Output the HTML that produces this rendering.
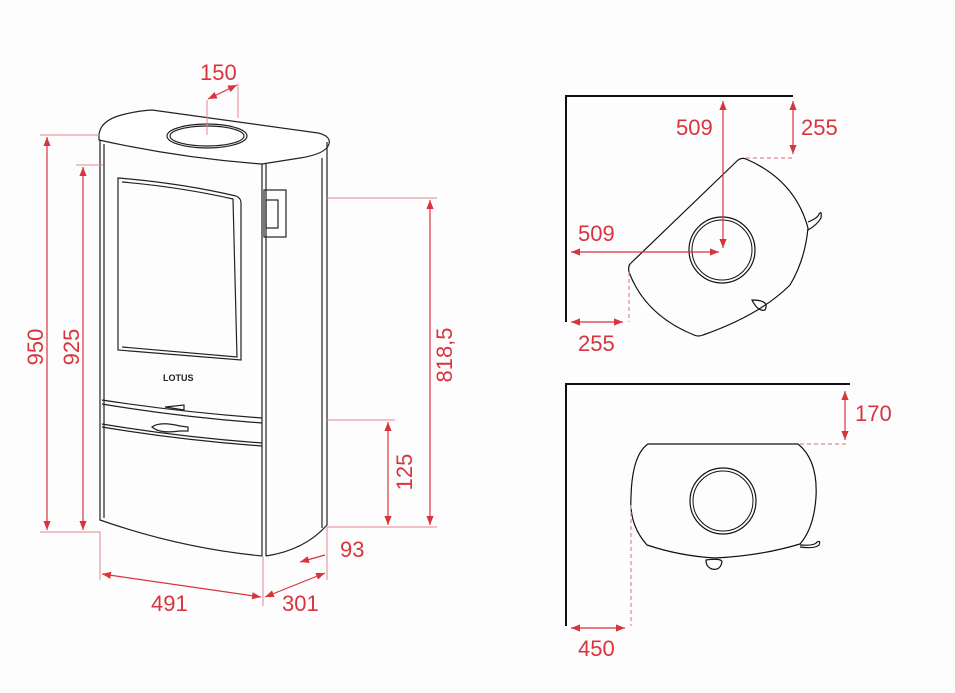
<!DOCTYPE html>
<html><head><meta charset="utf-8"><style>
html,body{margin:0;padding:0;background:#fdfdfd;}
svg{display:block;}
text{font-family:"Liberation Sans",sans-serif;font-size:22px;fill:#d9343e;}
</style></head><body>
<svg width="955" height="693" viewBox="0 0 955 693" xmlns="http://www.w3.org/2000/svg">
<defs>
<marker id="a" viewBox="0 0 10 10" refX="10" refY="5" markerWidth="9" markerHeight="9" orient="auto-start-reverse" markerUnits="userSpaceOnUse"><path d="M0,1 L10,5 L0,9 z" fill="#d9343e"/></marker>
</defs>
<rect width="955" height="693" fill="#fdfdfd"/>
<!-- LEFT STOVE -->
<g fill="none" stroke="#222" stroke-width="1.2">
<path d="M99,135 Q100,122 118,116 Q135,111 152,110 L318,133 Q331,136 329,144 Q326,154 300,158 L262,164 Q180,158 99,140 Z" fill="#fff"/>
<ellipse cx="207" cy="136" rx="40" ry="12"/>
<ellipse cx="207" cy="136" rx="37" ry="10"/>
<path d="M100,140 L100,520 Q180,548 262,556"/>
<path d="M104,144 L104,518"/>
<path d="M262,164 L262,556"/>
<path d="M266,164 L266,556"/>
<path d="M266,556 Q305,550 327,525 L327,142"/>
<path d="M322,158 L322,528"/>
<path d="M118,178 Q180,183 236,196 Q241,198 241,203 L241,360 Q180,355 118,350 Z"/>
<path d="M122,182 Q180,187 233,199 L237,357 Q180,352 122,347"/>
<rect x="264" y="190" width="22" height="47"/>
<rect x="266" y="200" width="12" height="28"/>
<path d="M102,400 Q180,412 262,418"/>
<path d="M102,404 Q180,417 262,423"/>
<path d="M102,424 Q180,437 262,443"/>
<path d="M102,427 Q180,440 262,446"/>
<path d="M165,407 L184,405 L184,410 Z"/>
<path d="M152,427 Q160,421 180,426 L188,427 L188,431 L180,431 Q160,434 152,427 Z"/>
</g>
<text x="163" y="381" style="font-size:9px;fill:#222;font-weight:bold">LOTUS</text>
<!-- dims left -->
<g stroke="#e38890" stroke-width="1" fill="none">
<line x1="40" y1="135" x2="100" y2="135"/>
<line x1="40" y1="532" x2="100" y2="532"/>
<line x1="76" y1="165" x2="103" y2="165"/>
<line x1="327" y1="198" x2="437" y2="198"/>
<line x1="327" y1="527" x2="437" y2="527"/>
<line x1="327" y1="420" x2="395" y2="420"/>
<line x1="100" y1="532" x2="100" y2="580"/>
<line x1="263" y1="556" x2="263" y2="606"/>
<line x1="327" y1="527" x2="327" y2="580"/>
<line x1="207" y1="100" x2="207" y2="135"/>
<line x1="238" y1="84" x2="238" y2="118"/>
</g>
<g stroke="#d9343e" stroke-width="1.2" fill="none">
<line x1="47" y1="137" x2="47" y2="530" marker-start="url(#a)" marker-end="url(#a)"/>
<line x1="83" y1="167" x2="83" y2="530" marker-start="url(#a)" marker-end="url(#a)"/>
<line x1="430" y1="200" x2="430" y2="525" marker-start="url(#a)" marker-end="url(#a)"/>
<line x1="388" y1="422" x2="388" y2="525" marker-start="url(#a)" marker-end="url(#a)"/>
<line x1="208" y1="99" x2="237" y2="85" marker-start="url(#a)" marker-end="url(#a)"/>
<line x1="102" y1="574" x2="261" y2="597" marker-start="url(#a)" marker-end="url(#a)"/>
<line x1="265" y1="597" x2="325" y2="573" marker-start="url(#a)" marker-end="url(#a)"/>
<line x1="325" y1="555" x2="300" y2="562" marker-end="url(#a)"/>
</g>
<text x="200" y="80">150</text>
<text transform="translate(43,347) rotate(-90)" text-anchor="middle">950</text>
<text transform="translate(79,347) rotate(-90)" text-anchor="middle">925</text>
<text transform="translate(452,355) rotate(-90)" text-anchor="middle">818,5</text>
<text transform="translate(412,472) rotate(-90)" text-anchor="middle">125</text>
<text x="340" y="557">93</text>
<text x="151" y="611">491</text>
<text x="282" y="611">301</text>
<!-- TOP RIGHT -->
<g fill="none" stroke="#111">
<path d="M566,322 L566,96 L793,96" stroke-width="2"/>
<path d="M630,264 L737,161 Q741,157 746,159 Q795,180 808,228 Q805,260 790,285 Q760,315 703,335 Q698,337 694,335 Q645,315 629,272 Q628,267 630,264 Z" stroke-width="1.2"/>
<circle cx="722" cy="250" r="33" stroke-width="1.2"/>
<circle cx="722" cy="250" r="30" stroke-width="1"/>
<path d="M752,300 Q770,300 765,310 Q758,312 752,300 Z" stroke-width="1.2"/>
<path d="M808,222 Q818,218 819,214 Q822,210 821,218 Q817,225 808,230" stroke-width="1.2"/>
</g>
<g stroke="#e38890" stroke-width="1.2" fill="none" stroke-dasharray="4,3">
<line x1="746" y1="158" x2="793" y2="158"/>
<line x1="629" y1="272" x2="629" y2="322"/>
</g>
<g stroke="#d9343e" stroke-width="1.2" fill="none">
<line x1="723" y1="101" x2="723" y2="248" marker-start="url(#a)" marker-end="url(#a)"/>
<line x1="793" y1="101" x2="793" y2="154" marker-start="url(#a)" marker-end="url(#a)"/>
<line x1="571" y1="252" x2="719" y2="252" marker-start="url(#a)" marker-end="url(#a)"/>
<line x1="571" y1="322" x2="623" y2="322" marker-start="url(#a)" marker-end="url(#a)"/>
</g>
<text x="676" y="135">509</text>
<text x="801" y="135">255</text>
<text x="578" y="241">509</text>
<text x="578" y="351">255</text>
<!-- BOTTOM RIGHT -->
<g fill="none" stroke="#111">
<path d="M566,626 L566,384 L850,384" stroke-width="2"/>
<path d="M648,444 L798,444 Q818,460 816,497 Q814,528 800,544 Q760,556 715,558 Q680,556 647,545 Q629,525 631,497 Q632,455 648,444 Z" stroke-width="1.2"/>
<circle cx="723" cy="501" r="33" stroke-width="1.2"/>
<circle cx="723" cy="501" r="30" stroke-width="1"/>
<path d="M706,560 Q722,558 722,562 Q720,571 712,569 Q706,567 706,560 Z" stroke-width="1.2"/>
<path d="M800,545 Q815,546 817,542 Q821,540 819,545 Q815,549 800,547" stroke-width="1.2"/>
</g>
<g stroke="#e38890" stroke-width="1.2" fill="none" stroke-dasharray="4,3">
<line x1="800" y1="444" x2="847" y2="444"/>
<line x1="631" y1="505" x2="631" y2="626"/>
</g>
<g stroke="#d9343e" stroke-width="1.2" fill="none">
<line x1="845" y1="391" x2="845" y2="440" marker-start="url(#a)" marker-end="url(#a)"/>
<line x1="571" y1="628" x2="625" y2="628" marker-start="url(#a)" marker-end="url(#a)"/>
</g>
<text x="855" y="421">170</text>
<text x="578" y="656">450</text>
</svg>
</body></html>
